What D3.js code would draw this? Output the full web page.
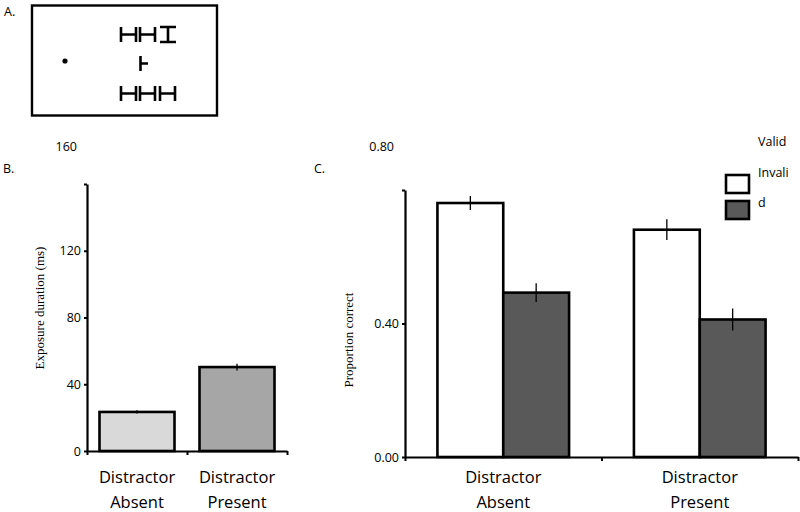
<!DOCTYPE html>
<html><head><meta charset="utf-8">
<script src="https://cdn.jsdelivr.net/npm/d3@7"></script>
<style>body{margin:0;background:#fff}svg{display:block}text{font-family:"Open Sans",sans-serif;fill:#000}</style>
</head><body><svg id="c" width="800" height="512"></svg>
<script>
// Panel B data
const condsB = ["Distractor Absent", "Distractor Present"];
const exposure = [23.4, 50.3];
const exposureErr = [1, 2];
const ticksB = [0, 40, 80, 120, 160];
// Panel C data
const condsC = ["Distractor Absent", "Distractor Present"];
const cueTypes = ["Valid", "Invalid"];
const validPC = [0.761, 0.681];
const invalidPC = [0.4925, 0.412];
const validErr = [0.021, 0.031];
const invalidErr = [0.028, 0.033];
const ticksC = [0, 0.4, 0.8];

const svg = d3.select("#c");
const font = '"Open Sans",sans-serif';

// Panel labels
svg.append("text").attr("x", 4).attr("y", 16).attr("font-size", 12.5).text("A.");
svg.append("text").attr("x", 3).attr("y", 173).attr("font-size", 12.5).text("B.");
svg.append("text").attr("x", 314).attr("y", 173).attr("font-size", 12.5).text("C.");

// Panel A: stimulus display
const gA = svg.append("g").attr("stroke", "#000").attr("fill", "none");
gA.append("rect").attr("x", 32).attr("y", 5.5).attr("width", 185).attr("height", 110).attr("stroke-width", 2.4);
gA.append("circle").attr("cx", 65).attr("cy", 61).attr("r", 2.6).attr("fill", "#000").attr("stroke", "none");
function H(x, y) { return `M${x},${y}V${y+15}M${x+15},${y}V${y+15}M${x},${y+7.5}H${x+15}`; }
function Hrot(x, y) { return `M${x},${y}H${x+16}M${x},${y+15}H${x+16}M${x+8},${y}V${y+15}`; }
const sw = 2.6;
gA.append("path").attr("stroke-width", sw).attr("d", H(121, 27) + H(140, 27) + Hrot(160, 27));
gA.append("path").attr("stroke-width", sw).attr("d", "M140.5,56V71M140.5,63.5H148");
gA.append("path").attr("stroke-width", sw).attr("d", H(121, 86) + H(140, 86) + H(160, 86));

// Panel B
const yB = d3.scaleLinear().domain([0, 160]).range([451, 184]);
const xB = d3.scaleBand().domain(condsB).range([87, 287]).paddingInner(0.25).paddingOuter(0.125);
const xBl = d3.scaleLinear().domain([0, 2]).range([87, 287]);
const colB = ["#d9d9d9", "#a6a6a6"];
const gB = svg.append("g");
gB.selectAll("rect.bar").data(condsB).join("rect")
  .attr("x", d => xB(d)).attr("width", xB.bandwidth())
  .attr("y", (d, i) => yB(exposure[i])).attr("height", (d, i) => yB(0) - yB(exposure[i]))
  .attr("fill", (d, i) => colB[i]).attr("stroke", "#000").attr("stroke-width", 2.6);
gB.selectAll("line.err").data(condsB).join("line")
  .attr("x1", d => xB(d) + xB.bandwidth() / 2).attr("x2", d => xB(d) + xB.bandwidth() / 2)
  .attr("y1", (d, i) => yB(exposure[i] + exposureErr[i])).attr("y2", (d, i) => yB(exposure[i] - exposureErr[i]))
  .attr("stroke", "#000").attr("stroke-width", 1.3);
gB.append("g").attr("transform", "translate(87,0)")
  .call(d3.axisLeft(yB).tickValues(ticksB).tickSize(3).tickSizeOuter(0).tickFormat(d => d === 160 ? "" : d));
gB.append("g").attr("transform", "translate(0,451)")
  .call(d3.axisBottom(xBl).tickValues([0, 1, 2]).tickSize(4).tickSizeOuter(0).tickFormat(""));
gB.append("text").attr("x", 77).attr("y", 151).attr("text-anchor", "end").attr("font-size", 12.5).text("160");
gB.append("text").attr("transform", "translate(44,308) rotate(-90)").attr("text-anchor", "middle")
  .style("font-family", '"Liberation Serif",serif').attr("font-size", 13).text("Exposure duration (ms)");
condsB.forEach(d => {
  const parts = d.split(" ");
  const t = gB.append("text").attr("text-anchor", "middle").attr("font-size", 16.5);
  t.append("tspan").attr("x", xB(d) + xB.bandwidth() / 2).attr("y", 483).text(parts[0]);
  t.append("tspan").attr("x", xB(d) + xB.bandwidth() / 2).attr("y", 508).text(parts[1]);
});

// Panel C
const yC = d3.scaleLinear().domain([0, 0.8]).range([457, 190]);
const xC = d3.scaleBand().domain(condsC).range([405, 798]).paddingInner(0.33).paddingOuter(0.165);
const xC1 = d3.scaleBand().domain(cueTypes).range([0, xC.bandwidth()]);
const xCl = d3.scaleLinear().domain([0, 2]).range([405, 798]);
const colC = {"Valid": "#ffffff", "Invalid": "#595959"};
const rows = [];
condsC.forEach((c, i) => {
  rows.push({c, k: "Valid", v: validPC[i], e: validErr[i]});
  rows.push({c, k: "Invalid", v: invalidPC[i], e: invalidErr[i]});
});
const gC = svg.append("g");
gC.selectAll("rect.bar").data(rows).join("rect")
  .attr("x", d => xC(d.c) + xC1(d.k)).attr("width", xC1.bandwidth())
  .attr("y", d => yC(d.v)).attr("height", d => yC(0) - yC(d.v))
  .attr("fill", d => colC[d.k]).attr("stroke", "#000").attr("stroke-width", 2.6);
gC.selectAll("line.err").data(rows).join("line")
  .attr("x1", d => xC(d.c) + xC1(d.k) + xC1.bandwidth() / 2).attr("x2", d => xC(d.c) + xC1(d.k) + xC1.bandwidth() / 2)
  .attr("y1", d => yC(d.v + d.e)).attr("y2", d => yC(d.v - d.e))
  .attr("stroke", "#000").attr("stroke-width", 1.3);
gC.append("g").attr("transform", "translate(405,0)")
  .call(d3.axisLeft(yC).tickValues(ticksC).tickSize(3).tickSizeOuter(0).tickFormat(d => d === 0.8 ? "" : d3.format(".2f")(d)));
gC.append("g").attr("transform", "translate(0,457)")
  .call(d3.axisBottom(xCl).tickValues([0, 1, 2]).tickSize(4).tickSizeOuter(0).tickFormat(""));
gC.append("text").attr("x", 394).attr("y", 151).attr("text-anchor", "end").attr("font-size", 12.5).text("0.80");
gC.append("text").attr("transform", "translate(353,340) rotate(-90)").attr("text-anchor", "middle")
  .style("font-family", '"Liberation Serif",serif').attr("font-size", 13).text("Proportion correct");
condsC.forEach(d => {
  const parts = d.split(" ");
  const cx = xC(d) + xC.bandwidth() / 2;
  const t = gC.append("text").attr("text-anchor", "middle").attr("font-size", 16.5);
  t.append("tspan").attr("x", cx).attr("y", 483).text(parts[0]);
  t.append("tspan").attr("x", cx).attr("y", 508).text(parts[1]);
});
// Legend
gC.append("text").attr("x", 758).attr("y", 146).attr("font-size", 12.5).text("Valid");
gC.append("text").attr("x", 758).attr("y", 177).attr("font-size", 12.5).text("Invali");
gC.append("text").attr("x", 758).attr("y", 207).attr("font-size", 12.5).text("d");
gC.append("rect").attr("x", 726).attr("y", 175).attr("width", 23).attr("height", 18).attr("fill", colC.Valid).attr("stroke", "#000").attr("stroke-width", 2.6);
gC.append("rect").attr("x", 726).attr("y", 201).attr("width", 23).attr("height", 18).attr("fill", colC.Invalid).attr("stroke", "#000").attr("stroke-width", 2.6);

// Axis styling
svg.selectAll(".domain").attr("stroke-width", 2.2);
svg.selectAll(".tick line").attr("stroke-width", 2);
svg.selectAll(".tick text").attr("font-size", 12.5).style("font-family", font);
</script></body></html>
